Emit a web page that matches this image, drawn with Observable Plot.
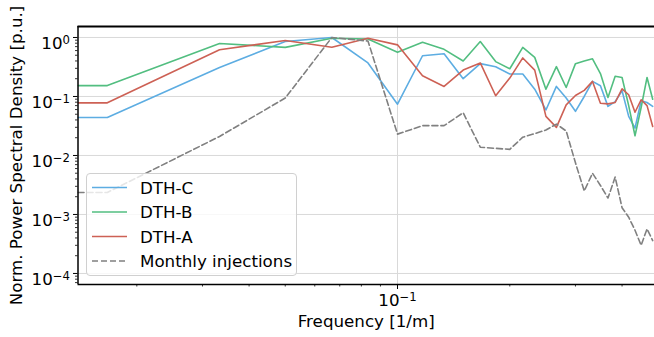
<!DOCTYPE html>
<html><head><meta charset="utf-8">
<script src="https://cdn.jsdelivr.net/npm/d3@7"></script>
<script src="https://cdn.jsdelivr.net/npm/@observablehq/plot@0.6"></script>
<style>
body{margin:0;background:#fff;}
#wrap{position:relative;width:654px;height:337px;font-family:"DejaVu Sans",sans-serif;}
#legend{position:absolute;left:86px;top:173px;width:211px;height:103px;border:1px solid #d0d0d0;border-radius:4px;background:rgba(255,255,255,0.8);box-sizing:border-box;}
#legend svg{position:absolute;left:-1px;top:-1px;overflow:visible;}
</style></head><body><div id="wrap"><div id="legend"></div></div>
<script>
// Frequencies [1/m] (first entry = left edge of the view, same value as first harmonic)
const freq = [0.01391, 0.01667, 0.03333, 0.05, 0.06667, 0.08333, 0.1, 0.1167, 0.1333, 0.15,
  0.1667, 0.1833, 0.2, 0.2167, 0.2333, 0.25, 0.2667, 0.2833, 0.3, 0.3167,
  0.3333, 0.35, 0.3667, 0.3833, 0.4, 0.4167, 0.4333, 0.45, 0.4667, 0.4833];

const seriesNames = ["DTH-C", "DTH-B", "DTH-A", "Monthly injections"];
const seriesColors = ["#5dade2", "#52be80", "#cd6155", "#808080"];

const dthC = [0.044, 0.044, 0.31, 0.855, 1.0, 0.37, 0.074, 0.49, 0.53, 0.2,
  0.36, 0.32, 0.24, 0.24, 0.133, 0.059, 0.148, 0.094, 0.056, 0.1,
  0.18, 0.152, 0.068, 0.082, 0.125, 0.046, 0.029, 0.085, 0.079, 0.068];
const dthB = [0.153, 0.153, 0.79, 0.68, 0.97, 0.94, 0.56, 0.83, 0.63, 0.4,
  0.855, 0.39, 0.295, 0.68, 0.46, 0.133, 0.32, 0.142, 0.36, 0.4,
  0.435, 0.245, 0.096, 0.22, 0.21, 0.07, 0.0216, 0.065, 0.21, 0.09];
const dthA = [0.078, 0.078, 0.62, 0.89, 0.685, 0.97, 0.75, 0.224, 0.148, 0.28,
  0.37, 0.103, 0.205, 0.45, 0.28, 0.046, 0.03, 0.072, 0.104, 0.127,
  0.18, 0.077, 0.075, 0.079, 0.135, 0.107, 0.054, 0.088, 0.07, 0.031];
const injections = [0.00236, 0.00236, 0.021, 0.094, 1.0, 0.87, 0.023, 0.032, 0.032, 0.053,
  0.0138, 0.0132, 0.0127, 0.0204, 0.0235, 0.027, 0.034, 0.026, 0.0075, 0.0025,
  0.005, 0.0031, 0.0019, 0.0043, 0.0013, 0.0009, 0.00054, 0.0003, 0.00057, 0.00036];

const yMajor = [1e-4, 1e-3, 1e-2, 1e-1, 1];
const xMajor = [0.1];
const xMinor = [0.02, 0.03, 0.04, 0.05, 0.06, 0.07, 0.08, 0.09, 0.2, 0.3, 0.4];
const yMinor = [];
for (const e of [-5, -4, -3, -2, -1, 0]) for (let m = 2; m <= 9; m++) {
  const v = m * Math.pow(10, e);
  if (v > 6.5e-5 && v < 1.53) yMinor.push(v);
}
const xDomain = [0.01391, 0.4887];
const yDomain = [6.5e-5, 1.535];
const FS = 16.7;

const allSeries = [dthC, dthB, dthA, injections];
const rows = allSeries.map((arr, i) => arr.map((v, j) => ({f: freq[j], v, s: seriesNames[i]})));

const expFmt = d => "10^" + Math.round(Math.log10(d));

const lineMarks = rows.map((r, i) => Plot.line(r, {
  x: "f", y: "v", stroke: seriesColors[i], strokeWidth: 1.6,
  strokeDasharray: i === 3 ? "6,3" : null, clip: true
}));

const chart = Plot.plot({
  width: 654, height: 337,
  marginLeft: 77.5, marginRight: 0, marginTop: 26, marginBottom: 53,
  style: {fontFamily: "DejaVu Sans", fontSize: FS + "px", background: "transparent", color: "black"},
  x: {type: "log", domain: xDomain},
  y: {type: "log", domain: yDomain},
  marks: [
    Plot.gridY(yMajor, {stroke: "#d9d9d9", strokeOpacity: 1, strokeWidth: 1}),
    Plot.gridX(xMajor, {stroke: "#d9d9d9", strokeOpacity: 1, strokeWidth: 1}),
    ...lineMarks,
    Plot.axisY(yMinor, {tickSize: 2.5, tickFormat: () => "", label: null, strokeWidth: 0.8}),
    Plot.axisY(yMajor, {tickSize: 4.5, tickPadding: 3.5, tickFormat: expFmt, label: null, fontSize: FS, strokeWidth: 1}),
    Plot.axisX(xMinor, {tickSize: 2.5, tickFormat: () => "", label: null, strokeWidth: 0.8}),
    Plot.axisX(xMajor, {tickSize: 5, tickPadding: 5, tickFormat: expFmt, label: null, fontSize: FS, strokeWidth: 1}),
    Plot.ruleX([xDomain[0]], {stroke: "black", strokeWidth: 1.5}),
    Plot.ruleY([yDomain[0]], {stroke: "black", strokeWidth: 1.5}),
    Plot.ruleY([yDomain[1]], {stroke: "black", strokeWidth: 1.8}),
    Plot.text(["Norm. Power Spectral Density [p.u.]"], {frameAnchor: "left", dx: -61, rotate: -90, fontSize: FS, textAnchor: "middle", lineAnchor: "middle"}),
    Plot.text(["Frequency [1/m]"], {frameAnchor: "bottom", dy: 37, fontSize: FS, textAnchor: "middle", lineAnchor: "middle"})
  ]
});

// mathtext-like superscripts for 10^n tick labels
const ns = "http://www.w3.org/2000/svg";
chart.querySelectorAll("text").forEach(t => {
  const s = t.textContent;
  if (/^10\^-?\d+$/.test(s)) {
    const [b, e] = s.split("^");
    while (t.firstChild) t.removeChild(t.firstChild);
    const t1 = document.createElementNS(ns, "tspan"); t1.textContent = b;
    const t2 = document.createElementNS(ns, "tspan"); t2.textContent = e.replace("-", "\u2212");
    t2.setAttribute("dy", "-0.42em"); t2.setAttribute("font-size", (FS * 0.7) + "px");
    t.appendChild(t1); t.appendChild(t2);
  }
});
const wrap = document.getElementById("wrap");
wrap.insertBefore(chart, wrap.firstChild);
chart.querySelectorAll('g[aria-label="y-axis tick label"] text').forEach(t => t.setAttribute("dy", "0.37em"));

// legend
const lsvg = document.createElementNS(ns, "svg");
lsvg.setAttribute("width", 211); lsvg.setAttribute("height", 103);
const rowY = [14.5, 39, 63.5, 88];
seriesNames.forEach((n, i) => {
  const l = document.createElementNS(ns, "line");
  l.setAttribute("x1", 6); l.setAttribute("x2", 41);
  l.setAttribute("y1", rowY[i]); l.setAttribute("y2", rowY[i]);
  l.setAttribute("stroke", seriesColors[i]); l.setAttribute("stroke-width", 1.6);
  if (i === 3) l.setAttribute("stroke-dasharray", "6,3");
  lsvg.appendChild(l);
  const t = document.createElementNS(ns, "text");
  t.setAttribute("x", 54); t.setAttribute("y", rowY[i]); t.setAttribute("dy", "0.36em");
  t.setAttribute("font-family", "DejaVu Sans"); t.setAttribute("font-size", FS);
  t.textContent = n;
  lsvg.appendChild(t);
});
document.getElementById("legend").appendChild(lsvg);
</script></body></html>
